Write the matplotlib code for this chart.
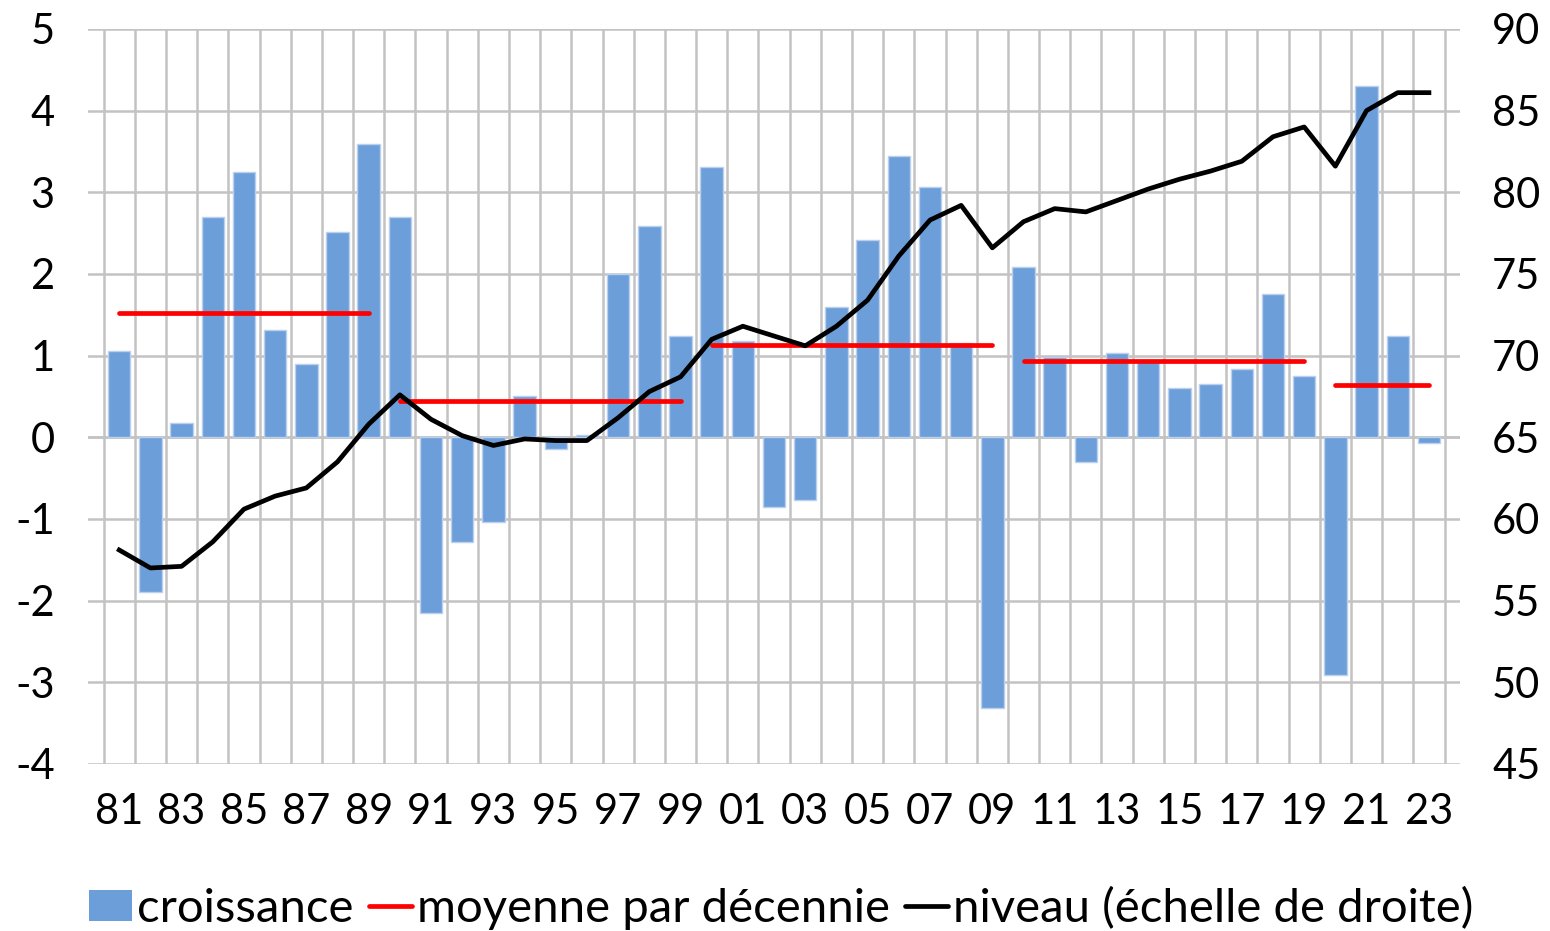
import numpy as np
import matplotlib
matplotlib.use("Agg")
import matplotlib.pyplot as plt
from matplotlib.patches import Patch
from matplotlib.lines import Line2D

# === Données ===
annees = list(range(1981, 2024))
croissance = [1.06, -1.90, 0.18, 2.70, 3.25, 1.31, 0.90, 2.51, 3.59, 2.70,
              -2.15, -1.28, -1.04, 0.50, -0.14, 0.03, 2.00, 2.59, 1.24, 3.31,
              1.18, -0.85, -0.77, 1.59, 2.42, 3.44, 3.06, 1.16, -3.31, 2.08,
              0.98, -0.30, 1.03, 0.95, 0.60, 0.65, 0.84, 1.75, 0.75, -2.91,
              4.30, 1.24, -0.07]
niveau = [58.1, 57.0, 57.1, 58.6, 60.6, 61.4, 61.9, 63.5, 65.8, 67.6,
          66.1, 65.1, 64.5, 64.9, 64.8, 64.8, 66.2, 67.8, 68.7, 71.0,
          71.8, 71.2, 70.6, 71.8, 73.4, 76.1, 78.3, 79.2, 76.6, 78.2,
          79.0, 78.8, 79.5, 80.2, 80.8, 81.3, 81.9, 83.4, 84.0, 81.6,
          85.0, 86.1, 86.1]
debut_decennie = [1981, 1990, 2000, 2010, 2020]
fin_decennie = [1989, 1999, 2009, 2019, 2023]
moyenne_decennie = [1.52, 0.45, 1.13, 0.94, 0.64]
etiquettes_x = ['81', '83', '85', '87', '89', '91', '93', '95', '97', '99', '01',
                '03', '05', '07', '09', '11', '13', '15', '17', '19', '21', '23']

BLEU = '#6c9ed9'
GRIS = '#c3c3c3'
TAILLE = 30

plt.rcParams['font.family'] = ['Lato', 'DejaVu Sans']
plt.rcParams['axes.unicode_minus'] = False

fig = plt.figure(figsize=(15.5, 9.31), dpi=100)
ax = fig.add_axes([0.0568, 0.1794, 0.8852, 0.7895])

x = np.arange(len(annees))

# === Barres de croissance ===
ax.bar(x, croissance, width=0.72, color=BLEU, edgecolor='#b9d1ee', linewidth=1, zorder=3)

# === Moyennes par décennie ===
for d0, d1, m in zip(debut_decennie, fin_decennie, moyenne_decennie):
    i0, i1 = annees.index(d0), annees.index(d1)
    ax.plot([i0, i1], [m, m], color='#ff0000', lw=3.4, solid_capstyle='round', zorder=4)

ax.set_xlim(-1, len(annees))
ax.set_ylim(-4, 5)
ax.set_yticks(range(-4, 6))
ax.set_xticks(x[::2])
ax.set_xticklabels(etiquettes_x)
ax.set_xticks(np.arange(-0.5, len(annees)), minor=True)
ax.grid(axis='x', which='minor', color=GRIS, lw=1.8, zorder=0)
ax.grid(axis='x', which='major', visible=False)
ax.grid(axis='y', which='major', color=GRIS, lw=1.8, zorder=0)
ax.set_axisbelow(True)
ax.axhline(0, color=GRIS, lw=1.8, zorder=2)
ax.tick_params(which='both', length=0)
ax.tick_params(axis='x', pad=21, labelsize=TAILLE)
ax.tick_params(axis='y', pad=24, labelsize=TAILLE)
for s in ax.spines.values():
    s.set_visible(False)

# === Niveau (échelle de droite) ===
ax2 = ax.twinx()
ax2.plot(x, niveau, color='black', lw=3.4, zorder=5)
ax2.set_ylim(45, 90)
ax2.set_yticks(range(45, 95, 5))
ax2.tick_params(length=0, pad=23, labelsize=TAILLE)
for s in ax2.spines.values():
    s.set_visible(False)

# === Légende ===
poignees = [Patch(facecolor=BLEU, edgecolor='none'),
            Line2D([], [], color='#ff0000', lw=3.4, solid_capstyle='round'),
            Line2D([], [], color='black', lw=3.4, solid_capstyle='round')]
noms = ['croissance', 'moyenne par décennie', 'niveau (échelle de droite)']
fig.legend(poignees, noms, loc='center', bbox_to_anchor=(0.504, 0.024), ncol=3,
           frameon=False, fontsize=34, handlelength=0.92, handleheight=0.62,
           handletextpad=0.1, columnspacing=0.32, borderpad=0, borderaxespad=0)

fig.savefig('out.png', dpi=100)
